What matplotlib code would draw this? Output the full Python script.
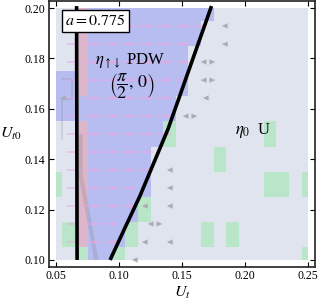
import numpy as np
import matplotlib
matplotlib.use("Agg")
import matplotlib.pyplot as plt
from matplotlib.colors import ListedColormap, BoundaryNorm

plt.rcParams["font.family"] = ["Liberation Serif", "DejaVu Serif"]
plt.rcParams["mathtext.fontset"] = "stix"

# grid of the phase map (cell centres)
Ut = np.round(np.arange(0.05, 0.2501, 0.01), 2)      # 21 columns
Ut0 = np.round(np.arange(0.10, 0.2001, 0.01), 2)     # 11 rows

# 0 = U (eta_0), 1 = PDW, 2 = green patches, 3 = pink column
# rows listed from Ut0 = 0.20 (top) down to 0.10 (bottom)
PHASE_TOP_DOWN = [
    [0, 0, 3, 1, 1, 1, 1, 1, 1, 1, 1, 1, 1, 0, 0, 0, 0, 0, 0, 0, 0],  # 0.20
    [0, 0, 3, 1, 1, 1, 1, 1, 1, 1, 1, 1, 0, 0, 0, 0, 0, 0, 0, 0, 0],  # 0.19
    [0, 0, 3, 1, 1, 1, 1, 1, 1, 1, 1, 0, 0, 0, 0, 0, 0, 0, 0, 0, 0],  # 0.18
    [1, 1, 3, 1, 1, 1, 1, 1, 1, 1, 1, 0, 0, 0, 0, 0, 0, 0, 0, 0, 0],  # 0.17
    [1, 1, 1, 1, 1, 1, 1, 1, 1, 1, 0, 0, 0, 0, 0, 0, 0, 0, 0, 0, 0],  # 0.16
    [0, 0, 3, 1, 1, 1, 1, 1, 1, 2, 0, 0, 0, 0, 0, 0, 0, 2, 0, 0, 0],  # 0.15
    [0, 0, 3, 1, 1, 1, 1, 1, 0, 0, 0, 0, 0, 2, 0, 0, 0, 0, 0, 0, 0],  # 0.14
    [2, 0, 3, 1, 1, 1, 1, 1, 0, 0, 0, 0, 0, 0, 0, 0, 0, 2, 2, 0, 2],  # 0.13
    [0, 0, 3, 1, 1, 1, 1, 2, 0, 0, 0, 0, 0, 0, 0, 0, 0, 0, 0, 0, 0],  # 0.12
    [0, 2, 3, 1, 1, 1, 2, 0, 0, 0, 0, 0, 2, 0, 2, 0, 0, 0, 0, 0, 0],  # 0.11
    [0, 0, 2, 1, 1, 2, 0, 0, 0, 0, 0, 0, 0, 0, 0, 0, 0, 0, 0, 0, 2],  # 0.10
]
PHASE_COLORS = ["#dfe4ee", "#b7bdf1", "#b9e5c9", "#dcb6cb"]

# phase boundaries (black curves)
vline_x = [0.0667, 0.0665, 0.0663]
vline_y = [0.100, 0.150, 0.2008]
pdw_x = [0.0929, 0.1040, 0.1165, 0.1389, 0.1474, 0.1587, 0.1734]
pdw_y = [0.100, 0.112, 0.1253, 0.152, 0.164, 0.180, 0.2008]

# faint grey guide lines
ghost_x = [0.0695, 0.0695, 0.0820]
ghost_y = [0.150, 0.134, 0.100]
step_x = [0.0545, 0.0625, 0.0625, 0.0545, 0.0545]
step_y = [0.1720, 0.1720, 0.1640, 0.1640, 0.1480]

# vector field sample grid
arrow_x = np.linspace(0.05, 0.25, 15)
arrow_y = np.linspace(0.10, 0.20, 15)
pink_last = [3, 3, 4, 4, 5, 5, 6, 6, 6, 7, 7, 7, 8]   # rows k = 1..13

grey_left_x = [0.1841, 0.1841, 0.1690, 0.1405, 0.1405, 0.1405, 0.1206,
               0.1405, 0.1206, 0.1127, 0.0556]
grey_left_y = [0.1929, 0.1857, 0.1643, 0.1357, 0.1286, 0.1214, 0.1214,
               0.1071, 0.1071, 0.1000, 0.1643]
grey_pair_x = [0.1706, 0.1706, 0.1563, 0.1286]
grey_pair_y = [0.1786, 0.1714, 0.1571, 0.1143]

phase = np.array(PHASE_TOP_DOWN[::-1])

fig = plt.figure(figsize=(3.19, 3.05), dpi=100)
ax = fig.add_axes([0.1536, 0.1246, 0.834, 0.872])

xe = np.concatenate([[Ut[0]], (Ut[:-1] + Ut[1:]) / 2, [Ut[-1]]])
ye = np.concatenate([[Ut0[0]], (Ut0[:-1] + Ut0[1:]) / 2, [Ut0[-1]]])
cmap = ListedColormap(PHASE_COLORS)
norm = BoundaryNorm([-0.5, 0.5, 1.5, 2.5, 3.5], cmap.N)
ax.pcolormesh(xe, ye, phase, cmap=cmap, norm=norm, shading="flat", zorder=1)

ax.plot(ghost_x, ghost_y, color="0.45", lw=3, alpha=0.2, zorder=2,
        solid_capstyle="butt")
ax.plot(step_x, step_y, color="0.45", lw=1.2, alpha=0.2, zorder=2)

# pink arrows inside the PDW region
px, py = [], []
for k, last in enumerate(pink_last, start=1):
    for j in range(1, last + 1):
        px.append(arrow_x[j])
        py.append(arrow_y[k])
px = np.array(px)
py = np.array(py)
ax.quiver(px, py, np.full_like(px, 0.0115), np.zeros_like(py),
          angles="xy", scale_units="xy", scale=1, pivot="middle",
          units="dots", width=1.2, headwidth=3.5, headlength=4.5,
          headaxislength=4, color="#eea6e0", alpha=0.8, zorder=3)

# grey arrows on the U side
gl_x = np.array(grey_left_x)
gl_y = np.array(grey_left_y)
gkw = dict(angles="xy", scale_units="xy", scale=1, units="dots", width=1.0,
           headwidth=5.5, headlength=6, headaxislength=5.5,
           color="#a9acb2", zorder=3)
ax.quiver(gl_x, gl_y, np.full_like(gl_x, -0.005), np.zeros_like(gl_y),
          pivot="middle", **gkw)
gp_x = np.array(grey_pair_x)
gp_y = np.array(grey_pair_y)
ax.quiver(gp_x - 0.0008, gp_y, np.full_like(gp_x, -0.005), np.zeros_like(gp_y),
          pivot="tail", **gkw)
ax.quiver(gp_x + 0.0008, gp_y, np.full_like(gp_x, 0.005), np.zeros_like(gp_y),
          pivot="tail", **gkw)

ax.plot(vline_x, vline_y, color="k", lw=2.6, zorder=4, solid_capstyle="butt")
ax.plot(pdw_x, pdw_y, color="k", lw=2.6, zorder=4, solid_capstyle="butt")

ax.text(0.0810, 0.1948, r"$a = 0.775$", fontsize=11.5, ha="center", va="center",
        zorder=6, bbox=dict(boxstyle="square,pad=0.2", fc="white", ec="k", lw=1.0))
ax.text(0.1085, 0.1793, r"$\eta_{\uparrow\downarrow}$ PDW", fontsize=12,
        ha="center", va="center", zorder=5)
ax.text(0.1100, 0.1688, r"$\left(\dfrac{\pi}{2},\, 0\right)$", fontsize=13,
        ha="center", va="center", zorder=5)
ax.text(0.2063, 0.1512, r"$\eta_0$  U", fontsize=12, ha="center",
        va="center", zorder=5)

ax.set_xlim(0.0444, 0.2556)
ax.set_ylim(0.0972, 0.2028)
ax.set_xticks([0.05, 0.10, 0.15, 0.20, 0.25])
ax.set_yticks([0.10, 0.12, 0.14, 0.16, 0.18, 0.20])
ax.xaxis.set_major_formatter(matplotlib.ticker.FormatStrFormatter("%.2f"))
ax.yaxis.set_major_formatter(matplotlib.ticker.FormatStrFormatter("%.2f"))
ax.tick_params(direction="in", top=True, right=True, length=3.5, width=0.8,
               labelsize=8.5, pad=2.5)
for s in ax.spines.values():
    s.set_linewidth(1.2)
    s.set_color("#222222")

ax.set_xlabel(r"$U_t$", fontsize=11.5, labelpad=2)
ax.set_ylabel(r"$U_{t0}$", fontsize=11.5, rotation=0, labelpad=10, va="center")

fig.savefig("out.png", dpi=100)
